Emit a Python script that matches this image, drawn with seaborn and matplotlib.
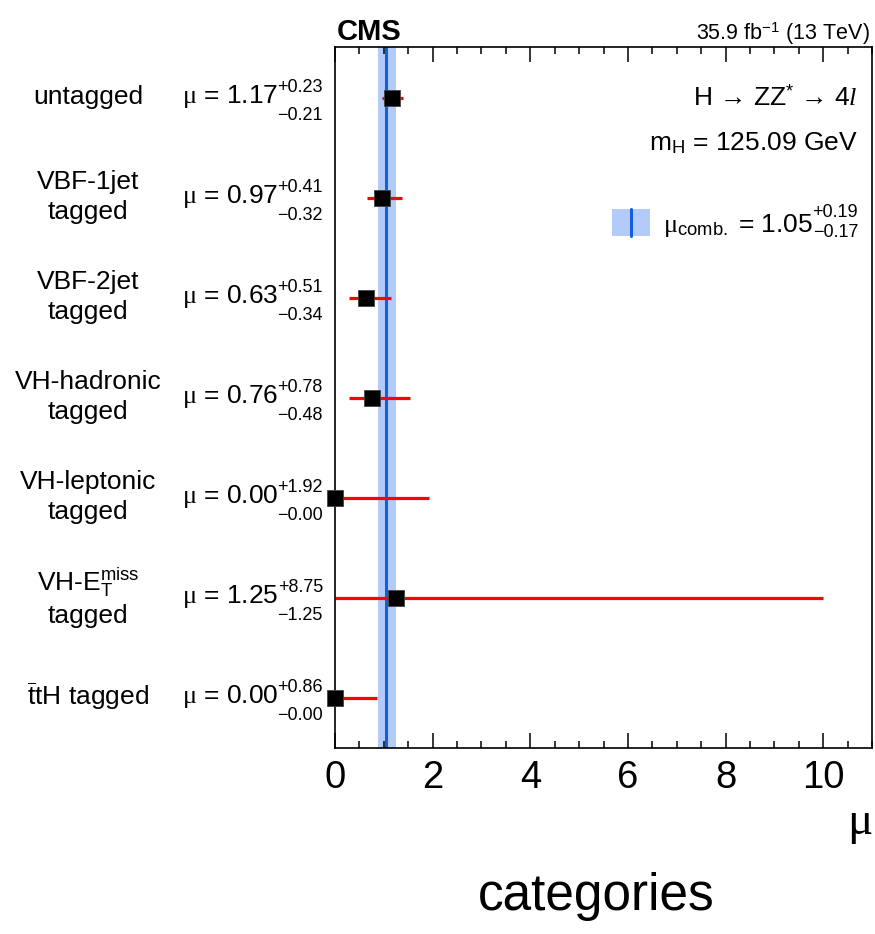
import numpy as np
import pandas as pd
import seaborn as sns
import matplotlib
matplotlib.use("Agg")
import matplotlib.pyplot as plt
from matplotlib import transforms
from matplotlib.patches import Rectangle
from matplotlib.ticker import MultipleLocator

# ---------------- data ----------------
categories = [
    "untagged",
    "VBF-1jet\ntagged",
    "VBF-2jet\ntagged",
    "VH-hadronic\ntagged",
    "VH-leptonic\ntagged",
    "VH-E$_{\\mathsf{T}}^{\\mathsf{miss}}$\ntagged",
    "$\\bar{\\mathsf{t}}$tH tagged",
]
mu = [1.17, 0.97, 0.63, 0.76, 0.00, 1.25, 0.00]
err_up = [0.23, 0.41, 0.51, 0.78, 1.92, 8.75, 0.86]
err_down = [0.21, 0.32, 0.34, 0.48, 0.00, 1.25, 0.00]
mu_comb = 1.05
comb_up = 0.19
comb_down = 0.17

# ---------------- style ----------------
sns.set_style("ticks")
plt.rcParams["font.family"] = ["Liberation Sans", "DejaVu Sans"]
plt.rcParams["mathtext.fontset"] = "custom"
plt.rcParams["mathtext.rm"] = "Liberation Serif"
plt.rcParams["mathtext.it"] = "Liberation Serif:italic"
plt.rcParams["mathtext.sf"] = "Liberation Sans"
plt.rcParams["mathtext.bf"] = "Liberation Sans:bold"
plt.rcParams["text.color"] = "black"
plt.rcParams["axes.labelcolor"] = "black"
plt.rcParams["xtick.color"] = "black"
plt.rcParams["axes.edgecolor"] = "black"

W, H = 875, 934
AX_L, AX_R, AX_T, AX_B = 335, 872, 47, 748
fig = plt.figure(figsize=(W / 100, H / 100), dpi=100)
ax = fig.add_axes([AX_L / W, 1 - AX_B / H, (AX_R - AX_L) / W, (AX_B - AX_T) / H])


def axf(px, py):
    """pixel position -> axes fraction"""
    return (px - AX_L) / (AX_R - AX_L), (AX_B - py) / (AX_B - AX_T)


df = pd.DataFrame({"category": categories, "mu": mu, "up": err_up, "down": err_down})
df["pos"] = np.arange(len(df))

band_color = "#b3cbf8"
line_color = "#1560d8"

ax.axvspan(mu_comb - comb_down, mu_comb + comb_up, color=band_color, lw=0, zorder=0)
ax.axvline(mu_comb, color=line_color, lw=2.2, zorder=1)
ax.hlines(df["pos"], df["mu"] - df["down"], df["mu"] + df["up"], color="#ff0000", lw=2.3, zorder=2)
sns.scatterplot(data=df, x="mu", y="pos", marker="s", s=120, color="black",
                edgecolor="#444444", linewidth=0.6, zorder=3, clip_on=False,
                ax=ax, legend=False)

ax.set_xlim(0, 11)
ax.set_ylim(len(df) - 0.5, -0.51)
ax.xaxis.set_major_locator(MultipleLocator(2))
ax.xaxis.set_minor_locator(MultipleLocator(0.5))
ax.tick_params(axis="x", which="both", direction="in", top=True, bottom=True,
               labelsize=27.5, width=1.1, color="black", pad=9)
ax.tick_params(axis="x", which="major", length=10.8)
ax.tick_params(axis="x", which="minor", length=5)
ax.set_yticks([])
ax.set_ylabel("")
for sp in ax.spines.values():
    sp.set_linewidth(1.2)
    sp.set_color("black")
ax.set_xlabel(r"$\mathrm{\mu}$", loc="right", fontsize=34, labelpad=4)

# ---------------- row labels ----------------
def tr(dy_px):
    base = transforms.blended_transform_factory(fig.transFigure, ax.transData)
    return transforms.offset_copy(base, fig=fig, x=0, y=-dy_px, units="dots")

for _, r in df.iterrows():
    p = r["pos"]
    ax.text(88 / W, p, r["category"], transform=tr(-1), ha="center", va="center",
            fontsize=19, linespacing=1.3, multialignment="center")
    ax.text(278 / W, p, r"$\mathrm{\mu}$ = %.2f" % r["mu"], transform=tr(5),
            ha="right", va="baseline", fontsize=19)
    ax.text(323 / W, p, "+%.2f" % r["up"], transform=tr(-6),
            ha="right", va="baseline", fontsize=13)
    ax.text(323 / W, p, "\u2212%.2f" % r["down"], transform=tr(22),
            ha="right", va="baseline", fontsize=13)

# ---------------- header / annotations ----------------
fig.text(337 / W, 1 - 40 / H, "CMS", fontweight="bold", fontsize=21, va="baseline")
fig.text(870 / W, 1 - 40 / H, r"35.9 fb$^{\mathsf{-1}}$ (13 TeV)", ha="right",
         va="baseline", fontsize=15.5)

ax.text(*axf(858, 106), "H \u2192 ZZ$^{\\mathsf{*}}$ \u2192 4$l$", transform=ax.transAxes,
        ha="right", va="baseline", fontsize=19)
ax.text(*axf(858, 150), "m$_{\\mathsf{H}}$ = 125.09 GeV", transform=ax.transAxes,
        ha="right", va="baseline", fontsize=19)

# legend entry for the combined result
x0, y0 = axf(612, 236)
x1, y1 = axf(650, 209)
ax.add_patch(Rectangle((x0, y0), x1 - x0, y1 - y0, transform=ax.transAxes,
                       facecolor=band_color, edgecolor="none", clip_on=False))
ax.plot([(x0 + x1) / 2] * 2, [y0, y1], transform=ax.transAxes, color=line_color, lw=2.2)
ax.text(*axf(663, 232), r"$\mathrm{\mu}_{\mathsf{comb.}}$ = %.2f" % mu_comb,
        transform=ax.transAxes, ha="left", va="baseline", fontsize=19)
ax.text(*axf(858, 217), "+%.2f" % comb_up, transform=ax.transAxes,
        ha="right", va="baseline", fontsize=13)
ax.text(*axf(858, 237), "\u2212%.2f" % comb_down, transform=ax.transAxes,
        ha="right", va="baseline", fontsize=13)

fig.text(596 / W, 1 - 910 / H, "categories", ha="center", va="baseline", fontsize=37)

fig.savefig("out.png", dpi=100)
